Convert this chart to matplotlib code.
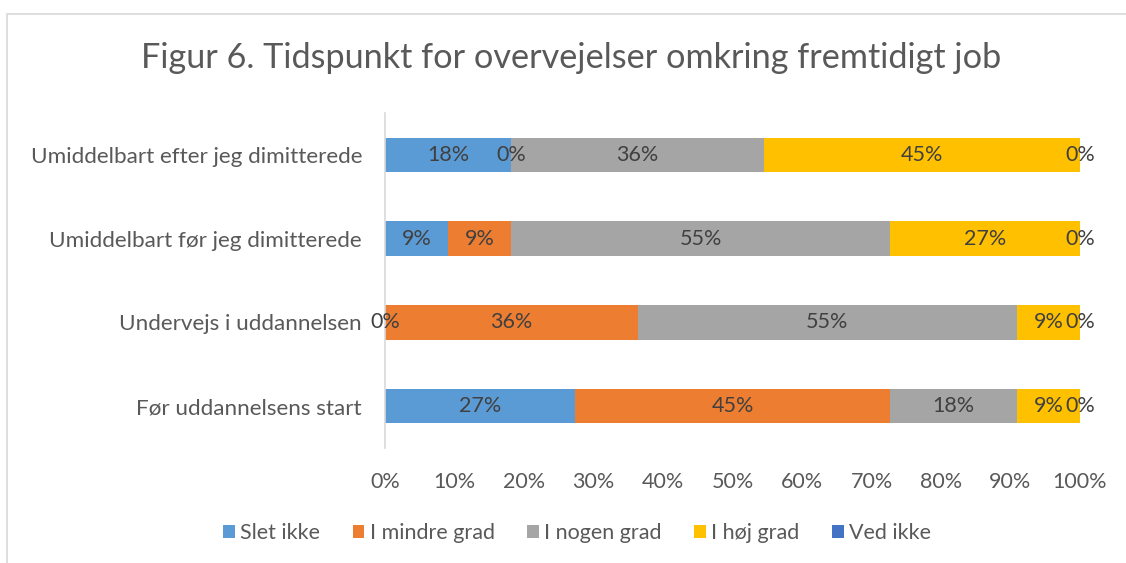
import matplotlib
matplotlib.use("Agg")
import matplotlib.pyplot as plt
from matplotlib.patches import Rectangle
import numpy as np

plt.rcParams['font.family'] = ['Lato', 'DejaVu Sans']

categories = ["Før uddannelsens start", "Undervejs i uddannelsen",
              "Umiddelbart før jeg dimitterede", "Umiddelbart efter jeg dimitterede"]
series = ["Slet ikke", "I mindre grad", "I nogen grad", "I høj grad", "Ved ikke"]
slet_ikke = [27.27, 0.0, 9.09, 18.18]
i_mindre_grad = [45.45, 36.36, 9.09, 0.0]
i_nogen_grad = [18.18, 54.55, 54.55, 36.36]
i_hoj_grad = [9.09, 9.09, 27.27, 45.45]
ved_ikke = [0.0, 0.0, 0.0, 0.0]
colors = ["#5B9BD5", "#ED7D31", "#A5A5A5", "#FFC000", "#4472C4"]
xticks = [0, 10, 20, 30, 40, 50, 60, 70, 80, 90, 100]

W, H = 1126, 563
fig = plt.figure(figsize=(W / 100, H / 100), dpi=100)
fig.patches.append(Rectangle((7 / W, -0.1), 1.2, 1 - 14 / H + 0.1, transform=fig.transFigure,
                             fill=False, edgecolor="#D9D9D9", linewidth=1.2))

ax = fig.add_axes([385 / W, 1 - 448 / H, (1080 - 385) / W, (448 - 113) / H])
y = np.arange(len(categories))
left = np.zeros(len(categories))
for name, vals, c in zip(series, [slet_ikke, i_mindre_grad, i_nogen_grad, i_hoj_grad, ved_ikke], colors):
    vals = np.array(vals)
    ax.barh(y, vals, left=left, height=0.41, color=c, label=name, edgecolor="none")
    for yi, l, v in zip(y, left, vals):
        ax.text(l + v / 2, yi, f"{v:.0f}%", ha="center", va="center", fontsize=15.5, color="#404040")
    left = left + vals

ax.set_xlim(0, 100)
ax.set_ylim(-0.5, 3.5)
ax.set_xticks(xticks)
ax.set_xticklabels([f"{t}%" for t in xticks], fontsize=15.5, color="#595959")
ax.set_yticks(y)
ax.set_yticklabels(categories, fontsize=16.2, color="#595959")
ax.tick_params(axis="x", length=0, pad=17)
ax.tick_params(axis="y", length=0, pad=16.5)
for s in ["top", "right", "bottom"]:
    ax.spines[s].set_visible(False)
ax.spines["left"].set_color("#D9D9D9")
ax.spines["left"].set_linewidth(1.2)

fig.text(571 / W, 1 - 58 / H, "Figur 6. Tidspunkt for overvejelser omkring fremtidigt job",
         ha="center", va="center", fontsize=24.7, color="#595959")

fig.legend(loc="center", bbox_to_anchor=(577 / W, 1 - 533 / H), ncol=5, frameon=False,
           fontsize=15.5, handlelength=0.55, handleheight=0.55, handletextpad=0.25, columnspacing=1.5,
           labelcolor="#595959")

fig.savefig("out.png", dpi=100)
